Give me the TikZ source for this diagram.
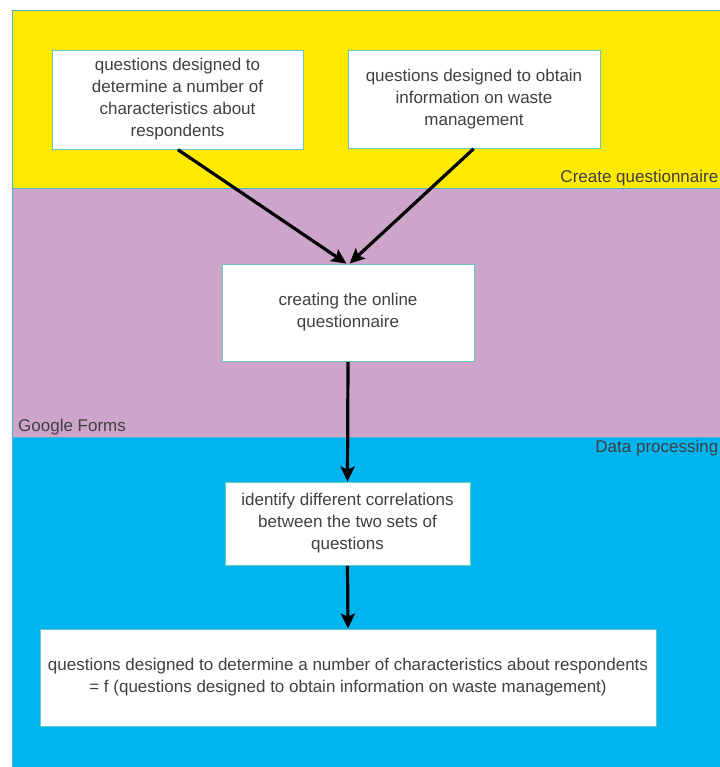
\documentclass[tikz,border=0pt]{standalone}
\usepackage{fontspec}
\setmainfont{Liberation Sans}
\usetikzlibrary{arrows.meta}
\definecolor{bandY}{RGB}{255,234,0}
\definecolor{bandP}{RGB}{206,165,202}
\definecolor{bandB}{RGB}{0,180,240}
\definecolor{bandline}{RGB}{80,175,215}
\definecolor{boxline}{RGB}{100,200,190}
\definecolor{txt}{RGB}{64,64,64}
\tikzset{
  band/.style={draw=bandline, line width=0.8pt},
  stepbox/.style={draw=boxline, fill=white, line width=0.8pt, rectangle, align=center,
    inner sep=0pt, text=txt, font=\fontsize{17}{22}\selectfont},
  lanelabel/.style={text=txt, font=\fontsize{17}{20}\selectfont, inner sep=0pt},
  flow/.style={line width=3.2pt, -{Stealth[length=15pt,width=14pt,inset=3pt]}, shorten <=0.5pt},
}
\begin{document}
\begin{tikzpicture}[x=1pt,y=-1pt]
\useasboundingbox (0,0) rectangle (719,767);
\fill[white] (0,0) rectangle (719,767);
% bands
\draw[band, fill=bandY] (12,10) rectangle (730,188);
\draw[band, fill=bandP] (12,188) rectangle (730,437);
\draw[band, fill=bandB] (12,437) rectangle (730,780);
% lane labels
\node[lanelabel, anchor=east] (lblA) at (718.5,178.5) {Create questionnaire};
\node[lanelabel, anchor=west] (lblB) at (18,427.5) {Google Forms};
\node[lanelabel, anchor=east] (lblC) at (718.5,448.5) {Data processing};
% boxes
\node[stepbox, minimum width=251pt, minimum height=99pt] (b1) at (177.5,99.5)
  {questions designed to\\determine a number of\\characteristics about\\respondents};
\node[stepbox, minimum width=252pt, minimum height=98pt] (b2) at (474,99)
  {questions designed to obtain\\information on waste\\management};
\node[stepbox, minimum width=252pt, minimum height=97pt] (b3) at (348,312.5)
  {creating the online\\questionnaire};
\node[stepbox, minimum width=245pt, minimum height=83pt] (b4) at (347.5,523.5)
  {identify different correlations\\between the two sets of\\questions};
\node[stepbox, minimum width=616pt, minimum height=97pt] (b5) at (348,677.5)
  {questions designed to determine a number of characteristics about respondents\\= f (questions designed to obtain information on waste management)};
% connectors
\draw[flow] (b1.south) -- ([xshift=-1.5pt]b3.north);
\draw[flow] (b2.south) -- ([xshift=1.5pt]b3.north);
\draw[flow] (b3.south) -- (b4.north);
\draw[flow] (b4.south) -- (b5.north);
\end{tikzpicture}
\end{document}
